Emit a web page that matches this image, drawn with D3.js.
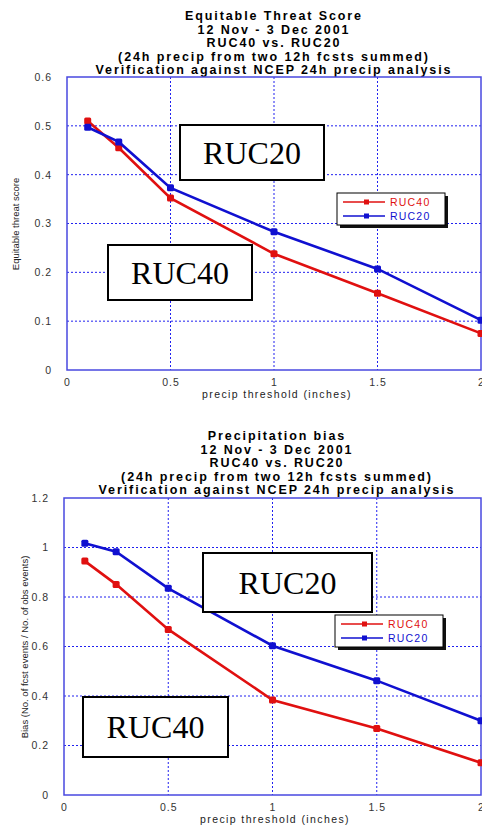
<!DOCTYPE html>
<html>
<head>
<meta charset="utf-8">
<script src="https://cdn.jsdelivr.net/npm/d3@7"></script>
<style>
  body { margin: 0; background: #fff; }
  svg { display: block; }
</style>
</head>
<body>
<svg id="chart"></svg>
<script>
// data
var thresholds = [0.1, 0.25, 0.5, 1, 1.5, 2];
var etsRuc40 = [0.51, 0.455, 0.352, 0.238, 0.157, 0.075];
var etsRuc20 = [0.497, 0.467, 0.373, 0.283, 0.207, 0.102];
var biasRuc40 = [0.945, 0.851, 0.669, 0.384, 0.269, 0.13];
var biasRuc20 = [1.017, 0.983, 0.835, 0.603, 0.462, 0.30];

var xTicks = [0, 0.5, 1, 1.5, 2];
var etsTicks = [0, 0.1, 0.2, 0.3, 0.4, 0.5, 0.6];
var biasTicks = [0, 0.2, 0.4, 0.6, 0.8, 1, 1.2];

var etsTitle = ["Equitable Threat Score", "12 Nov - 3 Dec 2001", "RUC40 vs. RUC20",
    "(24h precip from two 12h fcsts summed)", "Verification against NCEP 24h precip analysis"];
var biasTitle = ["Precipitation bias", "12 Nov - 3 Dec 2001", "RUC40 vs. RUC20",
    "(24h precip from two 12h fcsts summed)", "Verification against NCEP 24h precip analysis"];

var seriesNames = ["RUC40", "RUC20"];
var red = "#e01010";
var blue = "#1010d0";

var svg = d3.select("#chart")
    .attr("width", 482)
    .attr("height", 825);

function drawChart(opt) {
    var m = opt.box;
    var x = d3.scaleLinear().domain([0, 2]).range([m.left, m.right]);
    var y = d3.scaleLinear().domain([0, opt.ymax]).range([m.bottom, m.top]);
    var g = svg.append("g");

    // titles
    g.selectAll(".title")
        .data(opt.title)
        .enter().append("text")
        .attr("x", opt.titleX)
        .attr("y", function (d, i) { return opt.titleY + i * 13.5; })
        .attr("text-anchor", "middle")
        .attr("font-family", "Liberation Sans, Arial, sans-serif")
        .attr("font-weight", "bold")
        .attr("font-size", "12.5px")
        .attr("letter-spacing", "1.9px")
        .text(function (d) { return d; });

    // grid
    g.selectAll(".vgrid")
        .data(xTicks.slice(1, -1))
        .enter().append("line")
        .attr("x1", function (d) { return x(d); })
        .attr("x2", function (d) { return x(d); })
        .attr("y1", m.top).attr("y2", m.bottom)
        .attr("stroke", "#2020f0").attr("stroke-width", 1)
        .attr("stroke-dasharray", "2,2");
    g.selectAll(".hgrid")
        .data(opt.yTicks.slice(1, -1))
        .enter().append("line")
        .attr("y1", function (d) { return y(d); })
        .attr("y2", function (d) { return y(d); })
        .attr("x1", m.left).attr("x2", m.right)
        .attr("stroke", "#2020f0").attr("stroke-width", 1)
        .attr("stroke-dasharray", "2,2");

    g.append("rect")
        .attr("x", m.left).attr("y", m.top)
        .attr("width", m.right - m.left).attr("height", m.bottom - m.top)
        .attr("fill", "none").attr("stroke", "#4848e0").attr("stroke-width", 1.5);

    // axes (labels only, the box is drawn above)
    var xAxis = g.append("g")
        .attr("transform", "translate(0," + (m.bottom + 6) + ")")
        .call(d3.axisBottom(x).tickValues(xTicks).tickSize(0).tickFormat(function (d) { return String(d); }));
    var yAxis = g.append("g")
        .attr("transform", "translate(" + (m.left - 12) + ",0)")
        .call(d3.axisLeft(y).tickValues(opt.yTicks).tickSize(0).tickFormat(function (d) { return String(+d.toFixed(1)); }));
    [xAxis, yAxis].forEach(function (a) {
        a.select(".domain").remove();
        a.selectAll("text")
            .attr("font-family", "Liberation Sans, Arial, sans-serif")
            .attr("font-size", "10.5px")
            .attr("letter-spacing", "1px")
            .attr("fill", "#333");
    });

    g.append("text")
        .attr("x", opt.xLabelX).attr("y", opt.xLabelY)
        .attr("text-anchor", "middle")
        .attr("font-family", "Liberation Sans, Arial, sans-serif")
        .attr("font-size", "10.5px")
        .attr("letter-spacing", "1.4px")
        .attr("fill", "#222")
        .text("precip threshold (inches)");

    g.append("text")
        .attr("transform", "translate(" + opt.yLabelX + "," + opt.yLabelY + ")rotate(-90)")
        .attr("text-anchor", "middle")
        .attr("dy", "0.35em")
        .attr("font-family", "Liberation Sans, Arial, sans-serif")
        .attr("font-size", "9.5px")
        .attr("fill", "#222")
        .text(opt.yLabel);

    // series
    var line = d3.line()
        .x(function (d) { return x(d[0]); })
        .y(function (d) { return y(d[1]); });
    var series = [
        {vals: opt.ruc40, color: red},
        {vals: opt.ruc20, color: blue}
    ];
    series.forEach(function (s) {
        var pts = thresholds.map(function (t, i) { return [t, s.vals[i]]; });
        g.append("path")
            .datum(pts)
            .attr("d", line)
            .attr("fill", "none")
            .attr("stroke", s.color)
            .attr("stroke-width", 2.6);
        g.selectAll(null)
            .data(pts)
            .enter().append("rect")
            .attr("x", function (d) { return x(d[0]) - 3.5; })
            .attr("y", function (d) { return y(d[1]) - 3.5; })
            .attr("width", 7).attr("height", 7).attr("rx", 1.5)
            .attr("fill", s.color);
    });

    // big annotation boxes
    opt.notes.forEach(function (n) {
        g.append("rect")
            .attr("x", n.x).attr("y", n.y).attr("width", n.w).attr("height", n.h)
            .attr("fill", "#fff").attr("stroke", "#000").attr("stroke-width", 2);
        g.append("text")
            .attr("x", n.x + n.w / 2).attr("y", n.y + n.h / 2 + 11)
            .attr("text-anchor", "middle")
            .attr("font-family", "Liberation Serif, Times New Roman, serif")
            .attr("font-size", "32px")
            .text(n.label);
    });

    // legend
    var L = opt.legend;
    g.append("rect")
        .attr("x", L.x + 3).attr("y", L.y + 3).attr("width", 108).attr("height", 32)
        .attr("fill", "#111");
    g.append("rect")
        .attr("x", L.x).attr("y", L.y).attr("width", 108).attr("height", 32)
        .attr("fill", "#fff").attr("stroke", "#000").attr("stroke-width", 1);
    [red, blue].forEach(function (c, i) {
        var ly = L.y + 9 + i * 14;
        g.append("line")
            .attr("x1", L.x + 6).attr("x2", L.x + 48)
            .attr("y1", ly).attr("y2", ly)
            .attr("stroke", c).attr("stroke-width", 1.5);
        g.append("rect")
            .attr("x", L.x + 27).attr("y", ly - 2.5).attr("width", 5).attr("height", 5)
            .attr("fill", c);
        g.append("text")
            .attr("x", L.x + 53).attr("y", ly + 4)
            .attr("font-family", "Liberation Sans, Arial, sans-serif")
            .attr("font-size", "10.5px")
            .attr("letter-spacing", "1.2px")
            .attr("fill", c)
            .text(seriesNames[i]);
    });
}

drawChart({
    box: {left: 67, right: 481, top: 77, bottom: 370},
    ymax: 0.6, yTicks: etsTicks,
    ruc40: etsRuc40, ruc20: etsRuc20,
    title: etsTitle, titleX: 274, titleY: 20,
    xLabelX: 277, xLabelY: 398,
    yLabel: "Equitable threat score", yLabelX: 16, yLabelY: 224,
    notes: [
        {label: "RUC20", x: 180, y: 125, w: 144, h: 55},
        {label: "RUC40", x: 108, y: 245, w: 144, h: 55}
    ],
    legend: {x: 337, y: 193}
});

drawChart({
    box: {left: 64, right: 481, top: 498, bottom: 795},
    ymax: 1.2, yTicks: biasTicks,
    ruc40: biasRuc40, ruc20: biasRuc20,
    title: biasTitle, titleX: 277, titleY: 440,
    xLabelX: 275, xLabelY: 823,
    yLabel: "Bias (No. of fcst events / No. of obs events)", yLabelX: 25, yLabelY: 647,
    notes: [
        {label: "RUC20", x: 203, y: 553, w: 169, h: 59},
        {label: "RUC40", x: 83, y: 697, w: 145, h: 60}
    ],
    legend: {x: 335, y: 615}
});
</script>
</body>
</html>
